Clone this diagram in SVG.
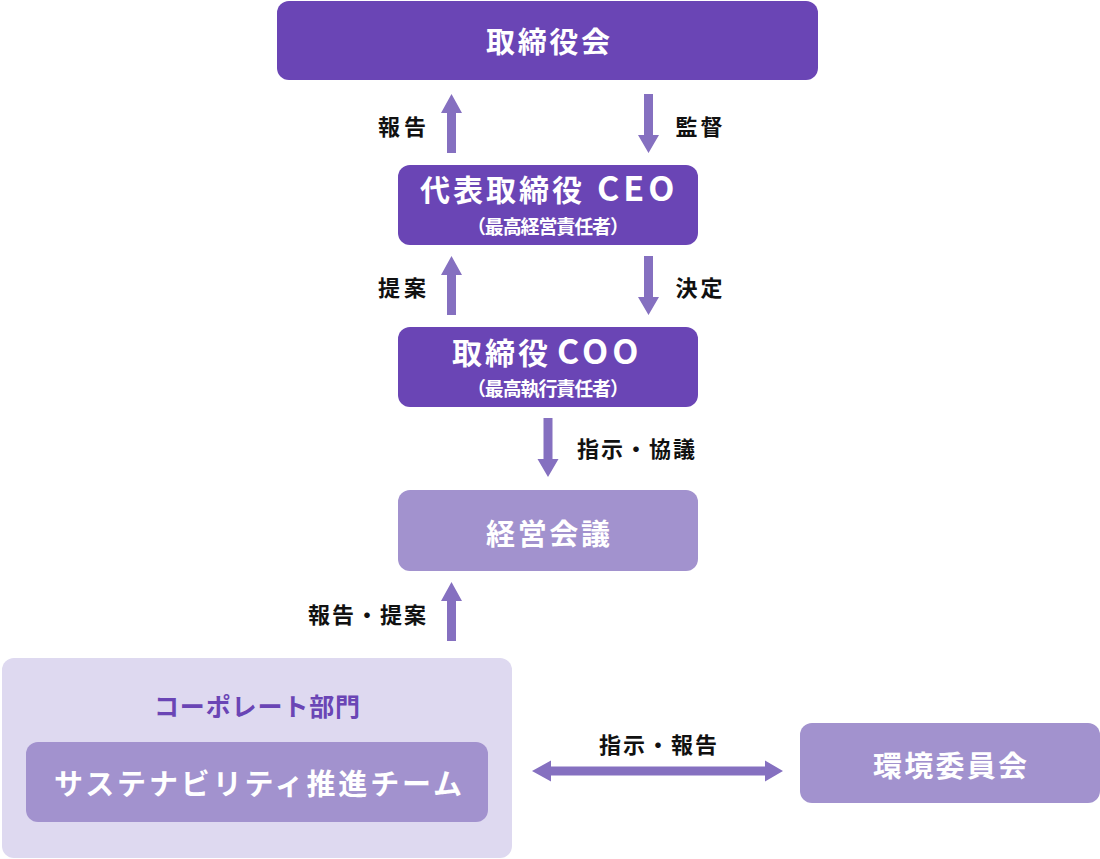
<svg xmlns="http://www.w3.org/2000/svg" width="1100" height="859" viewBox="0 0 1100 859">
<style>
  text { font-family: "Noto Sans CJK JP", "Noto Sans", sans-serif; font-weight: 700; dominant-baseline: central; text-anchor: middle; }
  text.title { dominant-baseline: alphabetic; text-anchor: start; }
  .cjk { font-size: 30px; letter-spacing: 3px; }
  .lat { font-size: 34px; letter-spacing: 4px; }
  .dark { fill: #6a45b5; }
  .mid { fill: #a292ce; }
  .light { fill: #ded9f0; }
  .w { fill: #ffffff; }
  .lbl { fill: #111111; font-size: 22px; }
  .arrow { fill: #8570c0; }
</style>
<rect width="1100" height="859" fill="#ffffff"/>
<g id="board">
  <rect class="dark" x="277" y="1" width="541" height="79" rx="12"/>
  <text class="w" x="548" y="40" font-size="29" textLength="124" lengthAdjust="spacing">取締役会</text>
</g>
<g id="ceo">
  <rect class="dark" x="398" y="165" width="300" height="80" rx="12"/>
  <text class="w title" y="201"><tspan class="cjk" x="420">代表取締役</tspan><tspan class="lat" x="597">CEO</tspan></text>
  <text class="w" x="548" y="225" font-size="19" textLength="162" lengthAdjust="spacing">（最高経営責任者）</text>
</g>
<g id="coo">
  <rect class="dark" x="398" y="327" width="300" height="80" rx="12"/>
  <text class="w title" y="364"><tspan class="cjk" x="452">取締役</tspan><tspan class="lat" x="557">COO</tspan></text>
  <text class="w" x="548" y="387" font-size="19" textLength="162" lengthAdjust="spacing">（最高執行責任者）</text>
</g>
<g id="keiei">
  <rect class="mid" x="398" y="490" width="300" height="81" rx="12"/>
  <text class="w" x="548" y="532" font-size="29" textLength="124" lengthAdjust="spacing">経営会議</text>
</g>
<g id="corporate">
  <rect class="light" x="2" y="658" width="510" height="200" rx="12"/>
  <text class="dark" x="257" y="705" font-size="25" textLength="206" lengthAdjust="spacing">コーポレート部門</text>
  <g id="team">
    <rect class="mid" x="26" y="742" width="462" height="80" rx="12"/>
    <text class="w" x="258" y="782" font-size="29" textLength="408" lengthAdjust="spacing">サステナビリティ推進チーム</text>
  </g>
</g>
<g id="env">
  <rect class="mid" x="800" y="723" width="300" height="80" rx="12"/>
  <text class="w" x="950" y="764" font-size="29" textLength="154" lengthAdjust="spacing">環境委員会</text>
</g>
<g id="connectors">
  <polygon class="arrow" points="451.5,94 462,113 456,113 456,153 447,153 447,113 441,113"/>
  <polygon class="arrow" points="644,94 653,94 653,135 659,135 648.5,153 638,135 644,135"/>
  <polygon class="arrow" points="451.5,256 462,275 456,275 456,315 447,315 447,275 441,275"/>
  <polygon class="arrow" points="644,256 653,256 653,297 659,297 648.5,315 638,297 644,297"/>
  <polygon class="arrow" points="543.5,418 552.5,418 552.5,459 558.5,459 548,477 537.5,459 543.5,459"/>
  <polygon class="arrow" points="451.5,582 462,601 456,601 456,641 447,641 447,601 441,601"/>
  <polygon class="arrow" points="532,771 551,760.5 551,766.5 765,766.5 765,760.5 783,771 765,781.5 765,775.5 551,775.5 551,781.5"/>
  <text class="lbl" x="402" y="125" textLength="48" lengthAdjust="spacing">報告</text>
  <text class="lbl" x="699" y="125" textLength="47" lengthAdjust="spacing">監督</text>
  <text class="lbl" x="402" y="286" textLength="48" lengthAdjust="spacing">提案</text>
  <text class="lbl" x="699" y="286" textLength="47" lengthAdjust="spacing">決定</text>
  <text class="lbl" x="636" y="447" textLength="118" lengthAdjust="spacing">指示・協議</text>
  <text class="lbl" x="367" y="613" textLength="118" lengthAdjust="spacing">報告・提案</text>
  <text class="lbl" x="658" y="743" textLength="118" lengthAdjust="spacing">指示・報告</text>
</g>
</svg>
